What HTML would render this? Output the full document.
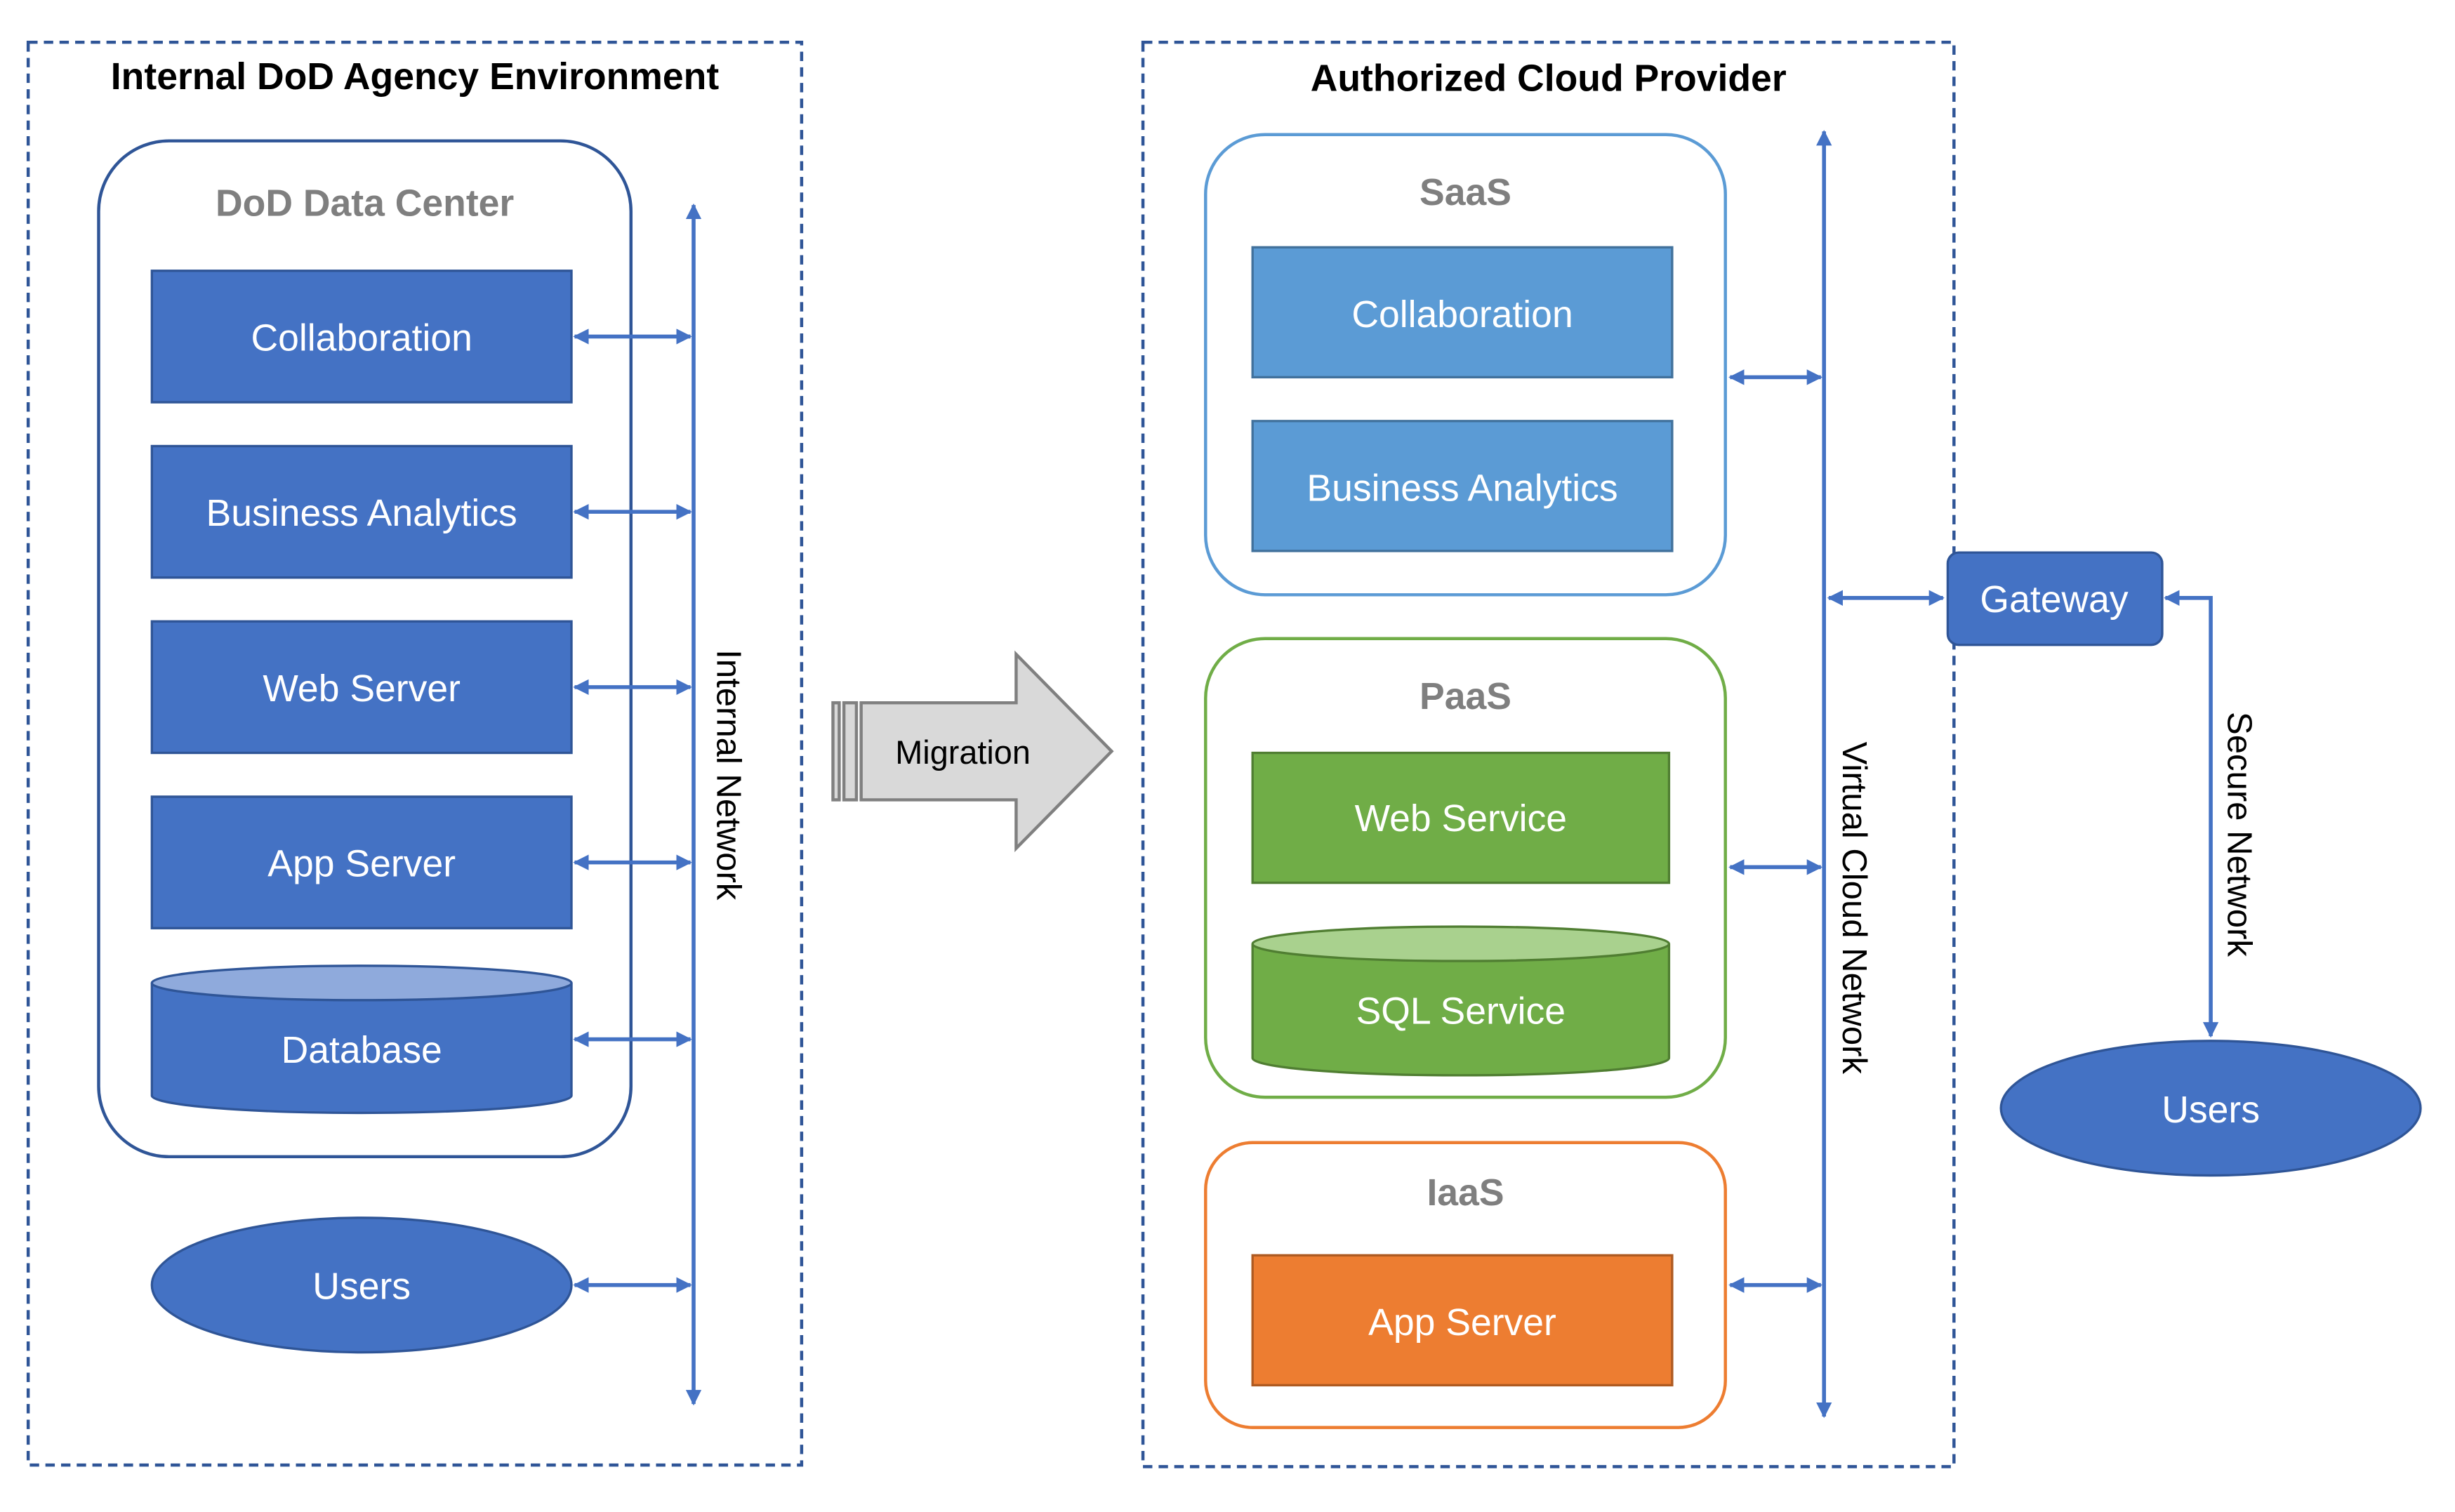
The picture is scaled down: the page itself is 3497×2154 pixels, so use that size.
<!DOCTYPE html>
<html><head><meta charset="utf-8"><style>html,body{margin:0;padding:0;background:#fff}svg{display:block}</style></head>
<body>
<svg width="3497" height="2154" viewBox="0 0 1568 966" preserveAspectRatio="none" xmlns="http://www.w3.org/2000/svg" font-family="'Liberation Sans','DejaVu Sans',sans-serif">
<defs>
<marker id="a" viewBox="0 0 10 10" refX="9" refY="5" markerWidth="4" markerHeight="4" orient="auto-start-reverse"><path d="M0,0L10,5L0,10z" fill="#4472C4"/></marker>
</defs>
<g fill="none" stroke="#2F5597" stroke-width="2" stroke-dasharray="6,4">
<rect x="18" y="27" width="494" height="909"/>
<rect x="730" y="27" width="518" height="910"/>
</g>
<g font-weight="bold" font-size="24" text-anchor="middle" fill="#000">
<text x="265" y="57">Internal DoD Agency Environment</text>
<text x="989" y="58">Authorized Cloud Provider</text>
</g>
<rect x="63" y="90" width="340" height="649" rx="45" fill="#fff" stroke="#2F5597" stroke-width="2"/>
<text x="233" y="138" font-size="24" font-weight="bold" fill="#7f7f7f" text-anchor="middle">DoD Data Center</text>
<g fill="#4472C4" stroke="#2F5597" stroke-width="1.5">
<rect x="97" y="173" width="268" height="84"/>
<rect x="97" y="285" width="268" height="84"/>
<rect x="97" y="397" width="268" height="84"/>
<rect x="97" y="509" width="268" height="84"/>
<path d="M97,628 V700 A134,11 0 0 0 365,700 V628"/>
<ellipse cx="231" cy="628" rx="134" ry="11" fill="#8FAADC"/>
<ellipse cx="231" cy="821" rx="134" ry="43"/>
<rect x="1244" y="353" width="137" height="59" rx="7"/>
<ellipse cx="1412" cy="708" rx="134" ry="43"/>
</g>
<g fill="#fff" font-size="24" text-anchor="middle">
<text x="231" y="224">Collaboration</text>
<text x="231" y="336">Business Analytics</text>
<text x="231" y="448">Web Server</text>
<text x="231" y="560">App Server</text>
<text x="231" y="679">Database</text>
<text x="231" y="830">Users</text>
<text x="1312" y="391">Gateway</text>
<text x="1412" y="717">Users</text>
</g>
<g fill="#fff" stroke-width="2">
<rect x="770" y="86" width="332" height="294" rx="38" stroke="#5B9BD5"/>
<rect x="770" y="408" width="332" height="293" rx="38" stroke="#70AD47"/>
<rect x="770" y="730" width="332" height="182" rx="30" stroke="#ED7D31"/>
</g>
<g font-size="24" font-weight="bold" fill="#7f7f7f" text-anchor="middle">
<text x="936" y="131">SaaS</text>
<text x="936" y="453">PaaS</text>
<text x="936" y="770">IaaS</text>
</g>
<g stroke-width="1.5">
<rect x="800" y="158" width="268" height="83" fill="#5B9BD5" stroke="#41719C"/>
<rect x="800" y="269" width="268" height="83" fill="#5B9BD5" stroke="#41719C"/>
<rect x="800" y="481" width="266" height="83" fill="#70AD47" stroke="#507E32"/>
<path d="M800,603 V676 A133,11 0 0 0 1066,676 V603" fill="#70AD47" stroke="#507E32"/>
<ellipse cx="933" cy="603" rx="133" ry="11" fill="#A9D18E" stroke="#507E32"/>
<rect x="800" y="802" width="268" height="83" fill="#ED7D31" stroke="#AE5A21"/>
</g>
<g fill="#fff" font-size="24" text-anchor="middle">
<text x="934" y="209">Collaboration</text>
<text x="934" y="320">Business Analytics</text>
<text x="933" y="531">Web Service</text>
<text x="933" y="654">SQL Service</text>
<text x="934" y="853">App Server</text>
</g>
<g fill="#D9D9D9" stroke="#808080" stroke-width="2">
<rect x="532" y="449" width="4" height="62"/>
<rect x="539" y="449" width="8" height="62"/>
<path d="M550,449 H649 V418 L710,480 L649,542 V511 H550z"/>
</g>
<text x="615" y="488" font-size="21" fill="#000" text-anchor="middle">Migration</text>
<g stroke="#4472C4" stroke-width="2.5" marker-start="url(#a)" marker-end="url(#a)">
<line x1="443" y1="131" x2="443" y2="897"/>
<line x1="367" y1="215" x2="441" y2="215"/>
<line x1="367" y1="327" x2="441" y2="327"/>
<line x1="367" y1="439" x2="441" y2="439"/>
<line x1="367" y1="551" x2="441" y2="551"/>
<line x1="367" y1="664" x2="441" y2="664"/>
<line x1="367" y1="821" x2="441" y2="821"/>
<line x1="1165" y1="84" x2="1165" y2="905"/>
<line x1="1105" y1="241" x2="1163" y2="241"/>
<line x1="1105" y1="554" x2="1163" y2="554"/>
<line x1="1105" y1="821" x2="1163" y2="821"/>
<line x1="1168" y1="382" x2="1241" y2="382"/>
</g>
<path d="M1383,382 H1412 V662" fill="none" stroke="#4472C4" stroke-width="2.5" marker-start="url(#a)" marker-end="url(#a)"/>
<g font-size="22" fill="#000" text-anchor="middle">
<text transform="translate(458,495) rotate(90)">Internal Network</text>
<text transform="translate(1177,580) rotate(90)">Virtual Cloud Network</text>
<text transform="translate(1423,533) rotate(90)">Secure Network</text>
</g>
</svg>
</body></html>
